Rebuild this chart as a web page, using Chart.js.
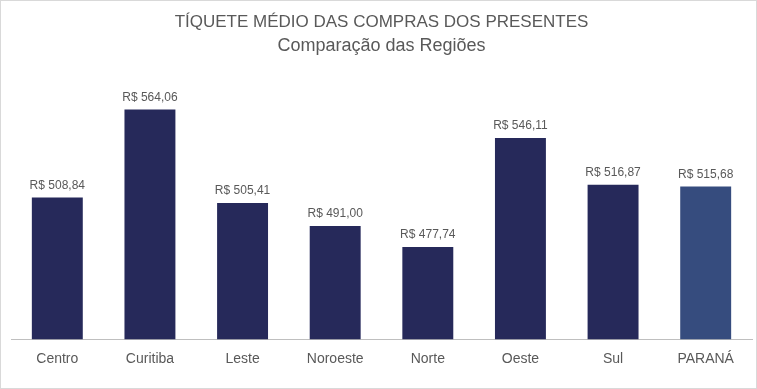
<!DOCTYPE html>
<html>
<head>
<meta charset="utf-8">
<script src="https://cdn.jsdelivr.net/npm/chart.js@4"></script>
<style>
  html, body { margin: 0; padding: 0; background: #fff; }
  #box { width: 757px; height: 389px; }
</style>
</head>
<body>
<div id="box"><canvas id="grafico" width="757" height="389"></canvas></div>
<script>
// dados
const regioes = ["Centro", "Curitiba", "Leste", "Noroeste", "Norte", "Oeste", "Sul", "PARANÁ"];
const ticketMedio = [508.84, 564.06, 505.41, 491.00, 477.74, 546.11, 516.87, 515.68];
const coresBarras = ["#26295a", "#26295a", "#26295a", "#26295a", "#26295a", "#26295a", "#26295a", "#364c7e"];

const fmtReal = v => "R$ " + v.toFixed(2).replace(".", ",");

// rotulo em cima de cada barra
const rotulos = {
    id: "rotulos",
    afterDatasetsDraw(chart) {
        const ctx = chart.ctx;
        const meta = chart.getDatasetMeta(0);
        ctx.save();
        ctx.font = "12px 'Liberation Sans', Arial, sans-serif";
        ctx.fillStyle = "#595959";
        ctx.textAlign = "center";
        ctx.textBaseline = "bottom";
        meta.data.forEach((bar, i) => {
            ctx.fillText(fmtReal(ticketMedio[i]), bar.x, bar.y - 6);
        });
        ctx.restore();
    }
};

// borda cinza em volta do grafico
const moldura = {
    id: "moldura",
    beforeDraw(chart) {
        const ctx = chart.ctx;
        ctx.save();
        ctx.fillStyle = "#fff";
        ctx.fillRect(0, 0, chart.width, chart.height);
        ctx.strokeStyle = "#d9d9d9";
        ctx.lineWidth = 1;
        ctx.strokeRect(0.5, 0.5, chart.width - 1, chart.height - 1);
        ctx.restore();
    }
};

new Chart(document.getElementById("grafico"), {
    type: "bar",
    data: {
        labels: regioes,
        datasets: [{
            data: ticketMedio,
            backgroundColor: coresBarras,
            categoryPercentage: 1,
            barPercentage: 0.55
        }]
    },
    options: {
        responsive: false,
        animation: false,
        layout: { padding: { left: 11, right: 5, top: 0, bottom: 17 } },
        plugins: {
            legend: { display: false },
            tooltip: { enabled: false },
            title: {
                display: true,
                text: "TÍQUETE MÉDIO DAS COMPRAS DOS PRESENTES",
                color: "#595959",
                font: { family: "'Liberation Sans', sans-serif", size: 17, weight: "normal" },
                padding: { top: 12, bottom: 3 }
            },
            subtitle: {
                display: true,
                text: "Comparação das Regiões",
                color: "#595959",
                font: { family: "'Liberation Sans', sans-serif", size: 18, weight: "normal" },
                padding: { top: 0, bottom: 27 }
            }
        },
        scales: {
            x: {
                grid: { display: false },
                border: { color: "#bfbfbf", width: 1 },
                ticks: {
                    color: "#595959",
                    font: { family: "'Liberation Sans', Arial, sans-serif", size: 14 },
                    padding: 4
                }
            },
            y: {
                display: false,
                min: 420,
                max: 580
            }
        }
    },
    plugins: [moldura, rotulos]
});
</script>
</body>
</html>
